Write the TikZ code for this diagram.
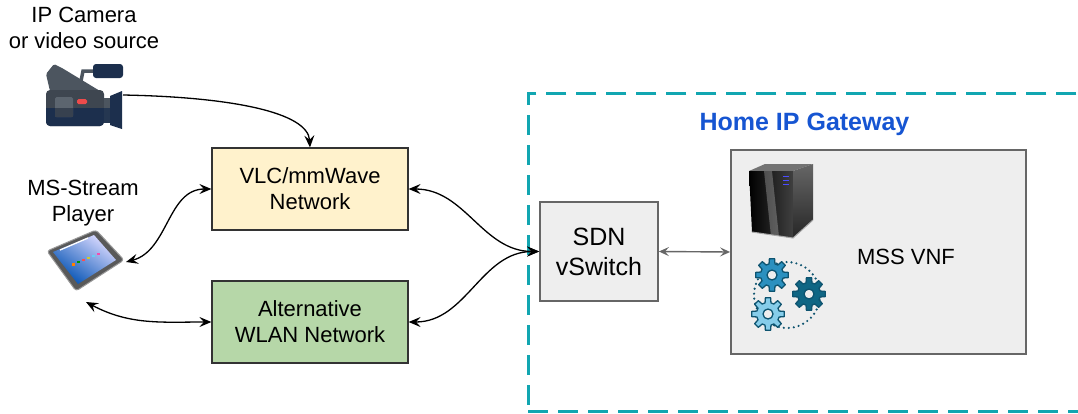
\documentclass[tikz,border=0pt]{standalone}
\usepackage{fontspec}
\setmainfont{Liberation Sans}
\usetikzlibrary{arrows.meta}

\definecolor{vlcfill}{HTML}{FFF2CC}
\definecolor{wlanfill}{HTML}{B6D7A8}
\definecolor{boxline}{HTML}{333333}
\definecolor{grayfill}{HTML}{EEEEEE}
\definecolor{grayline}{HTML}{666666}
\definecolor{gwteal}{HTML}{12A6B1}
\definecolor{gwblue}{HTML}{1655D2}
\definecolor{camnavy}{HTML}{1C2F4D}
\definecolor{camdark}{HTML}{3E4650}
\definecolor{camgray}{HTML}{4C555F}
\definecolor{camlight}{HTML}{5C656F}
\definecolor{camred}{HTML}{EE4B4B}
\definecolor{gearA}{HTML}{2B90BF}
\definecolor{gearB}{HTML}{0F6684}
\definecolor{gearC}{HTML}{86CDEA}
\definecolor{gearline}{HTML}{0E5470}

% one cog wheel: centre x, centre y, fill colour
\newcommand\cogwheel[3]{%
  \begin{scope}[shift={(#1,#2)}]
    \filldraw[fill=#3, draw=gearline, line width=1.3pt, even odd rule, line join=round]
      (-15:11.5) \foreach \a in {0,45,...,315}{
        -- ({\a-15}:11.5) -- ({\a-9}:16.5) -- ({\a+9}:16.5) -- ({\a+15}:11.5) }
      -- cycle (0,0) circle (5);
  \end{scope}}

\begin{document}
\begin{tikzpicture}[x=1pt,y=-1pt,
  txt/.style={font=\fontsize{22}{26}\selectfont, align=center, inner sep=0pt},
  netbox/.style={txt, draw=boxline, line width=1.2pt},
  grybox/.style={draw=grayline, fill=grayfill, line width=1.8pt, align=center, inner sep=0pt},
  gwframe/.style={draw=gwteal, line width=2.6pt, dash pattern=on 20pt off 10pt},
  link/.style={line width=1.3pt, {Stealth[length=12pt,width=10pt,inset=4.5pt]}-{Stealth[length=12pt,width=10pt,inset=4.5pt]}},
  feed/.style={line width=1.3pt, -{Stealth[length=12pt,width=10pt,inset=4.5pt]}},
  vnflink/.style={draw=grayline, line width=1.4pt, {Stealth[length=10pt,width=9pt,inset=4pt]}-{Stealth[length=10pt,width=9pt,inset=4pt]}}
]
\useasboundingbox (0,0) rectangle (1078,413);
\clip (0,0) rectangle (1078,413);

% ---------- gateway frame ----------
\node[gwframe, minimum width=580pt, minimum height=318pt, anchor=north west, inner sep=0pt] (gw) at (527,92) {};
\node[font=\fontsize{25}{30}\selectfont\bfseries, text=gwblue, anchor=base, inner sep=0pt] (gwlabel) at (804.5,130) {Home IP Gateway};

% ---------- boxes ----------
\node[netbox, fill=vlcfill, minimum width=196pt, minimum height=82pt] (vlc) at (310,189) {VLC/mmWave\\Network};
\node[netbox, fill=wlanfill, minimum width=196pt, minimum height=82pt] (wlan) at (310,322) {Alternative\\WLAN Network};
\node[grybox, font=\fontsize{25}{30}\selectfont, minimum width=118pt, minimum height=99pt] (sdn) at (599,251.5) {SDN\\vSwitch};
\node[grybox, minimum width=295pt, minimum height=204pt] (mss) at (878.5,252) {};
\node[txt, anchor=base] (msslabel) at (906,264) {MSS VNF};

% ---------- side labels ----------
\node[txt] (camlabel) at (84,28) {IP Camera\\or video source};
\node[txt] (playerlabel) at (83,203) {MS-Stream\\Player};

% ---------- video camera ----------
\fill[camgray, rounded corners=1.5pt] (46,74) -- (54,64) -- (62,68) -- (100,91) -- (50,91) -- cycle;
\draw[camgray, line width=3.5pt] (80,86) -- (83,71) -- (94,71);
\fill[camnavy, rounded corners=3pt] (93,64) rectangle (123,78);
\fill[camdark, rounded corners=4pt] (46,90) rectangle (104,126);
\fill[camnavy, rounded corners=4pt] (46,108) rectangle (104,126);
\fill[camnavy] (46,108) rectangle (104,114);
\fill[camlight, rounded corners=1.5pt] (55,97) rectangle (73,117);
\fill[camdark!80!camnavy] (55,108) rectangle (73,117);
\fill[camred, rounded corners=1.5pt] (77,99) rectangle (87,104);
\fill[camgray] (104,98) rectangle (111,123);
\fill[camnavy!80!camgray] (104,108) rectangle (111,123);
\fill[camnavy] (110,96) -- (122,91) -- (122,129) -- (110,125) -- cycle;
\coordinate (camlens) at (123,95);

% ---------- tablet ----------
\filldraw[fill=black!65, draw=black!40, line width=1pt, rounded corners=3pt]
  (47,251) -- (96,230) -- (124,260) -- (76,291) -- cycle;
\shade[top color=white!85!blue, bottom color=blue!55!cyan!70!black, shading angle=-35]
  (53,252) -- (94,235) -- (116,260) -- (78,284) -- cycle;
\draw[white, line width=1.3pt] (60,250) -- (88,238);
\foreach \i/\c in {0/orange,1/green!60!black,2/red!70,3/yellow!80!black,4/cyan!60,5/magenta!70}
  \fill[\c] ({72+\i*5},{263-\i*2.1}) rectangle ++(2.5,2.5);
\coordinate (tabright) at (126,262);
\coordinate (tabbottom) at (86,302);

% ---------- server ----------
\fill[black!55] (749,171) -- (765,164) -- (813,164) -- (793,171) -- cycle;
\shade[left color=black, right color=black!75] (749,171) -- (793,171) -- (793,238) -- (752,232) -- cycle;
\fill[white, opacity=0.25] (764,171) -- (772,171) -- (779,237) -- (771,236) -- cycle;
\shade[top color=black!60, bottom color=black!85] (793,171) -- (813,164) -- (813,220) -- (793,238) -- cycle;
\draw[black!35, line width=1pt] (752,232) -- (793,238) -- (813,220);
\foreach \yy in {176,180,184} \draw[blue!70!white, line width=1pt] (783,\yy) -- (789,\yy);

% ---------- cog wheels ----------
\draw[gearline, line width=2.4pt, dash pattern=on 0pt off 5pt, line cap=round] (787,295) circle (33);
\cogwheel{772}{275}{gearA}
\cogwheel{809}{294}{gearB}
\cogwheel{768}{314}{gearC}

% ---------- connectors ----------
\draw[feed] (camlens) .. controls (230,97) and (308,112) .. (vlc.north);
\draw[link] (tabright) to[out=15, in=180] (vlc.west);
\draw[link] (tabbottom) to[out=-28, in=180] (wlan.west);
\draw[link] (vlc.east) to[out=0, in=180] (sdn.west);
\draw[link] (wlan.east) to[out=0, in=180] (sdn.west);
\draw[vnflink] (sdn.east) -- (mss.west);
\end{tikzpicture}
\end{document}
